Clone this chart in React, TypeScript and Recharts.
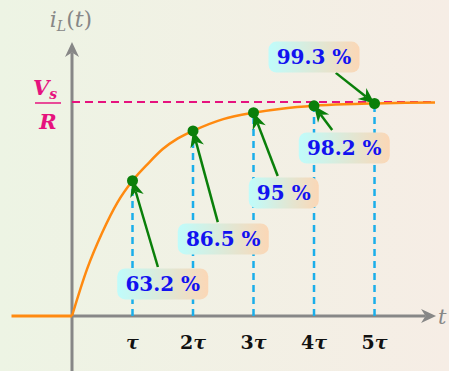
import React from 'react';
import { ComposedChart, Line, XAxis, YAxis, ReferenceLine, ReferenceDot } from 'recharts';

// time in units of tau, current as a fraction of Vs/R
const tauMultiples = [1, 2, 3, 4, 5];
const tickLabels = ['', '2', '3', '4', '5'];
const levels = [0.632, 0.865, 0.95, 0.982, 0.993];
const percentLabels = ['63.2 %', '86.5 %', '95 %', '98.2 %', '99.3 %'];

// where each percentage box sits and where its arrow starts
const labelT = [1.5, 2.5, 3.5, 4.5, 4.0];
const labelV = [0.15, 0.36, 0.575, 0.785, 1.21];
const arrowFromT = [1.42, 2.41, 3.4, 4.3, 4.36];
const arrowFromV = [0.229, 0.439, 0.654, 0.869, 1.136];

// current stays at zero before the switch closes
const beforeT = [-1, 0];
const curveT = [0, 0.25, 0.5, 0.75, 1, 1.25, 1.5, 1.75, 2, 2.5, 3, 3.5, 4, 4.5, 5, 5.5, 6];
const curveV = [0, 0.22, 0.39, 0.53, 0.632, 0.71, 0.78, 0.83, 0.865, 0.92, 0.95, 0.97, 0.982, 0.989, 0.993, 0.996, 0.998];

const curve = curveT.map((t, i) => ({ t, v: curveV[i] }));

const GRAY = '#878787';
const GREEN = '#0a7f0a';
const MAGENTA = '#e6127e';
const CYAN = '#1aaeea';
const ORANGE = '#ff8a10';
const SERIF = '"DejaVu Serif", serif';

const arrowShape = (color: string, sw: number, head: number, half: number) => (p: any) => {
  const { x1, y1, x2, y2 } = p;
  const dx = x2 - x1;
  const dy = y2 - y1;
  const len = Math.hypot(dx, dy) || 1;
  const ux = dx / len;
  const uy = dy / len;
  const nx = -uy;
  const ny = ux;
  const bx = x2 - ux * head;
  const by = y2 - uy * head;
  const mx = x2 - ux * head * 0.7;
  const my = y2 - uy * head * 0.7;
  return (
    <g>
      <line x1={x1} y1={y1} x2={mx} y2={my} stroke={color} strokeWidth={sw} />
      <polygon
        points={`${x2},${y2} ${bx + nx * half},${by + ny * half} ${mx},${my} ${bx - nx * half},${by - ny * half}`}
        fill={color}
      />
    </g>
  );
};

const boxShape = (text: string, i: number) => (p: any) => {
  const w = 28 + text.length * 10.5;
  const h = 31;
  const id = `boxgrad${i}`;
  return (
    <g>
      <defs>
        <linearGradient id={id} x1="0" y1="0" x2="1" y2="0">
          <stop offset="0%" stopColor="#bffcfb" />
          <stop offset="100%" stopColor="#fbd7b6" />
        </linearGradient>
      </defs>
      <rect x={p.cx - w / 2} y={p.cy - h / 2} width={w} height={h} rx={8} fill={`url(#${id})`} />
      <text
        x={p.cx}
        y={p.cy + 7}
        textAnchor="middle"
        fill="#1212f0"
        fontFamily={SERIF}
        fontWeight="bold"
        fontSize={20}
      >
        {text}
      </text>
    </g>
  );
};

const tickShape = (num: string) => (p: any) => (
  <text x={p.cx} y={p.cy + 33} textAnchor="middle" fill="#111" fontFamily={SERIF} fontWeight="bold" fontSize={19}>
    {num}
    <tspan fontStyle="italic">τ</tspan>
  </text>
);

const fractionShape = (p: any) => {
  const c = p.cx - 24;
  return (
    <g fill={MAGENTA} fontFamily={SERIF} fontWeight="bold" fontStyle="italic">
      <text x={c - 3} y={p.cy - 7} textAnchor="middle" fontSize={21}>
        V<tspan fontSize={14} dy={4}>s</tspan>
      </text>
      <line x1={c - 13} y1={p.cy + 1} x2={c + 13} y2={p.cy + 1} stroke={MAGENTA} strokeWidth={1.5} />
      <text x={c} y={p.cy + 27} textAnchor="middle" fontSize={21}>
        R
      </text>
    </g>
  );
};

const yTitleShape = (p: any) => (
  <text x={p.cx - 1} y={p.cy - 15} textAnchor="middle" fill={GRAY} fontFamily={SERIF} fontSize={22}>
    <tspan fontStyle="italic">i</tspan>
    <tspan fontStyle="italic" fontSize={14} dy={4}>L</tspan>
    <tspan dy={-4}>(</tspan>
    <tspan fontStyle="italic">t</tspan>
    <tspan>)</tspan>
  </text>
);

const xTitleShape = (p: any) => (
  <text x={p.cx + 2} y={p.cy + 8} fill={GRAY} fontFamily={SERIF} fontStyle="italic" fontSize={21}>
    t
  </text>
);

export default function App() {
  return (
    <div
      style={{
        position: 'absolute',
        left: 0,
        top: 0,
        width: 449,
        height: 371,
        background: 'linear-gradient(to right, #edf4e4, #f6ede5)',
      }}
    >
      <ComposedChart width={449} height={371} margin={{ top: 0, right: 0, bottom: 0, left: 0 }}>
        <XAxis dataKey="t" type="number" domain={[-1.19, 6.231]} allowDataOverflow hide />
        <YAxis dataKey="v" type="number" domain={[-0.257, 1.4766]} allowDataOverflow hide />

        {/* axes with arrow heads */}
        <ReferenceLine
          segment={[{ x: 0, y: -0.257 }, { x: 0, y: 1.28 }]}
          ifOverflow="visible"
          shape={arrowShape(GRAY, 3, 15, 7)}
        />
        <ReferenceLine
          segment={[{ x: 0, y: 0 }, { x: 6.017, y: 0 }]}
          ifOverflow="visible"
          shape={arrowShape(GRAY, 3, 15, 7)}
        />
        <ReferenceDot x={0} y={1.28} r={0} shape={yTitleShape} />
        <ReferenceDot x={6.017} y={0} r={0} shape={xTitleShape} />

        {/* steady-state level */}
        <ReferenceLine
          segment={[{ x: 0, y: 1 }, { x: 6, y: 1 }]}
          stroke={MAGENTA}
          strokeWidth={2}
          strokeDasharray="8 5"
        />
        <ReferenceDot x={0} y={1} r={0} shape={fractionShape} />

        {tauMultiples.map((k, i) => (
          <ReferenceLine
            key={`v${k}`}
            segment={[{ x: k, y: 0 }, { x: k, y: levels[i] }]}
            stroke={CYAN}
            strokeWidth={2.5}
            strokeDasharray="7 5"
          />
        ))}

        <ReferenceLine
          segment={[{ x: beforeT[0], y: 0 }, { x: beforeT[1], y: 0 }]}
          stroke={ORANGE}
          strokeWidth={3}
        />
        <Line data={curve} dataKey="v" type="monotone" stroke={ORANGE} strokeWidth={2.5} dot={false} activeDot={false} isAnimationActive={false} />

        {tauMultiples.map((k, i) => (
          <ReferenceDot key={`d${k}`} x={k} y={levels[i]} r={5.5} fill={GREEN} stroke="none" />
        ))}
        {tauMultiples.map((k, i) => (
          <ReferenceDot key={`t${k}`} x={k} y={0} r={0} shape={tickShape(tickLabels[i])} />
        ))}

        {tauMultiples.map((k, i) => (
          <ReferenceLine
            key={`a${k}`}
            segment={[{ x: arrowFromT[i], y: arrowFromV[i] }, { x: k, y: levels[i] }]}
            shape={arrowShape(GREEN, 2.5, 16, 7)}
          />
        ))}
        {percentLabels.map((txt, i) => (
          <ReferenceDot key={`b${i}`} x={labelT[i]} y={labelV[i]} r={0} shape={boxShape(txt, i)} />
        ))}
      </ComposedChart>
    </div>
  );
}
